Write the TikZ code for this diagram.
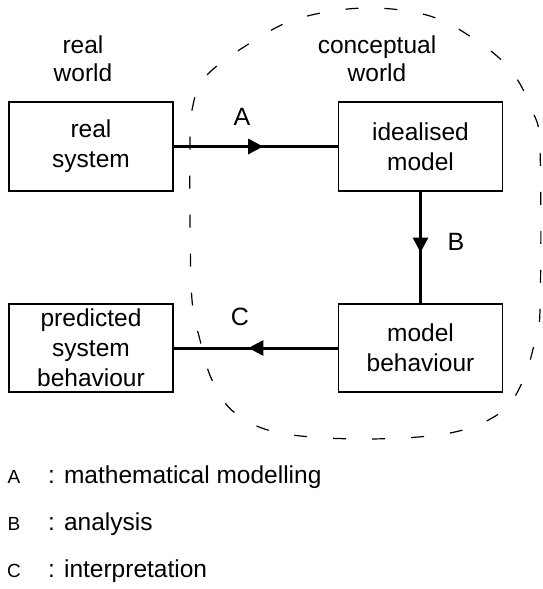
\documentclass[tikz,border=0pt]{standalone}
\usepackage{fontspec}
\setmainfont{Liberation Sans}
\usetikzlibrary{arrows.meta,decorations.markings}

\tikzset{
  box/.style={draw=black, line width=1.3pt, minimum width=164pt, minimum height=89pt,
              inner sep=0pt, align=center, font=\fontsize{24.5}{30}\selectfont},
  caption/.style={align=center, inner sep=0pt, font=\fontsize{24.5}{28}\selectfont},
  flowlabel/.style={inner sep=0pt, font=\fontsize{25}{28}\selectfont},
  flow/.style={line width=3pt, decoration={markings,
      mark=at position 0.545 with {\arrow{Triangle[length=15pt,width=15pt]}}},
      postaction={decorate}},
  keyletter/.style={inner sep=0pt, font=\fontsize{19}{22}\selectfont},
  keytext/.style={inner sep=0pt, anchor=west, font=\fontsize{24.5}{26}\selectfont},
  boundary/.style={line width=1.2pt, dash pattern=on 13pt off 26pt}
}

\begin{document}
\begin{tikzpicture}[x=1pt, y=-1pt]
  \useasboundingbox (0,0) rectangle (542,589);

  % conceptual world boundary
  \draw[boundary] plot[smooth cycle, tension=0.6] coordinates {
    (190,150) (192,110) (206,76) (255,40) (300,18) (365,8) (430,16)
    (480,43) (512,72) (532,110) (540,150) (540,310) (534,345) (522,383)
    (500,413) (450,433) (365,439) (280,433) (235,413) (212,380)
    (200,340) (192,300) (190,220)};

  % headings
  \node[caption] (rw) at (83,59) {real\\world};
  \node[caption] (cw) at (377,59) {conceptual\\world};

  % boxes
  \node[box] (rs) at (91,146.5) {real\\system};
  \node[box] (im) at (420.5,146.5) {idealised\\model};
  \node[box, minimum height=88pt] (pb) at (91,348) {predicted\\system\\behaviour};
  \node[box, minimum height=88pt] (mb) at (420.5,348) {model\\behaviour};

  % process arrows
  \draw[flow] (rs.east) -- (im.west);
  \draw[flow] (im.south) -- (mb.north);
  \draw[flow] (mb.west) -- (pb.east);

  \node[flowlabel] (la) at (242,117) {A};
  \node[flowlabel] (lb) at (456,242) {B};
  \node[flowlabel] (lc) at (240,317) {C};

  % key
  \node[keyletter] (ka) at (14,477) {A};
  \node[keytext] (ta) at (48,477) {: mathematical modelling};
  \node[keyletter] (kb) at (14,524) {B};
  \node[keytext] (tb) at (48,524) {: analysis};
  \node[keyletter] (kc) at (14,571) {C};
  \node[keytext] (tc) at (48,571) {: interpretation};
\end{tikzpicture}
\end{document}
